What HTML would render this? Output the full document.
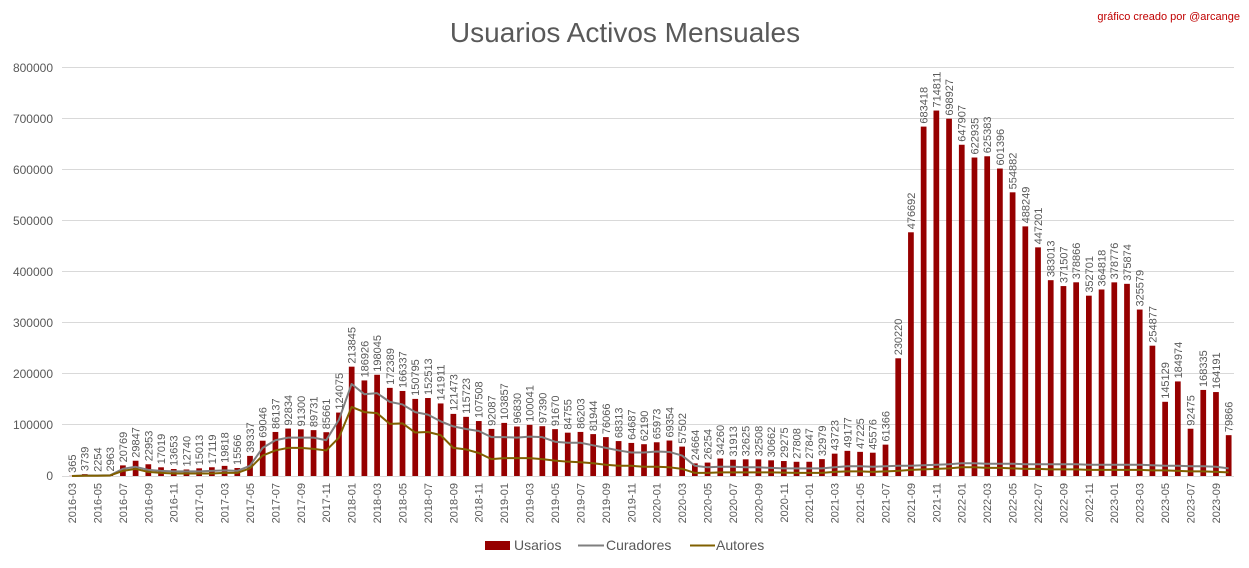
<!DOCTYPE html>
<html><head><meta charset="utf-8"><style>
html,body{margin:0;padding:0;background:#fff;}
svg{display:block;font-family:"Liberation Sans",sans-serif;}
.dl{font-size:11px;fill:#595959;}
.tk{font-size:11px;fill:#595959;}
</style></head><body>
<svg width="1249" height="568" viewBox="0 0 1249 568">
<rect width="1249" height="568" fill="#fff"/>
<text x="625" y="42" text-anchor="middle" font-size="28" fill="#595959">Usuarios Activos Mensuales</text>
<text x="1240" y="20" text-anchor="end" font-size="11" fill="#c00000">gráfico creado por @arcange</text>
<g stroke="#d9d9d9" stroke-width="1">
<line x1="62" x2="1234" y1="67.5" y2="67.5"/><line x1="62" x2="1234" y1="118.5" y2="118.5"/><line x1="62" x2="1234" y1="169.5" y2="169.5"/><line x1="62" x2="1234" y1="220.5" y2="220.5"/><line x1="62" x2="1234" y1="271.5" y2="271.5"/><line x1="62" x2="1234" y1="322.5" y2="322.5"/><line x1="62" x2="1234" y1="373.5" y2="373.5"/><line x1="62" x2="1234" y1="424.5" y2="424.5"/><line x1="62" x2="1234" y1="476.5" y2="476.5"/>
</g>
<g font-size="12" fill="#595959" text-anchor="end">
<text x="53" y="72">800000</text><text x="53" y="123">700000</text><text x="53" y="174">600000</text><text x="53" y="225">500000</text><text x="53" y="276">400000</text><text x="53" y="327">300000</text><text x="53" y="378">200000</text><text x="53" y="429">100000</text><text x="53" y="480">0</text>
</g>
<g transform="translate(72,476) scale(12.71,-0.00051125)">
<g fill="#960000">
<rect x="-0.22" width="0.45" y="0" height="365"/><rect x="0.78" width="0.45" y="0" height="3739"/><rect x="1.78" width="0.45" y="0" height="2254"/><rect x="2.78" width="0.45" y="0" height="2963"/><rect x="3.78" width="0.45" y="0" height="20769"/><rect x="4.78" width="0.45" y="0" height="29847"/><rect x="5.78" width="0.45" y="0" height="22953"/><rect x="6.78" width="0.45" y="0" height="17019"/><rect x="7.78" width="0.45" y="0" height="13653"/><rect x="8.78" width="0.45" y="0" height="12740"/><rect x="9.78" width="0.45" y="0" height="15013"/><rect x="10.78" width="0.45" y="0" height="17119"/><rect x="11.78" width="0.45" y="0" height="19818"/><rect x="12.78" width="0.45" y="0" height="15566"/><rect x="13.78" width="0.45" y="0" height="39337"/><rect x="14.78" width="0.45" y="0" height="69046"/><rect x="15.78" width="0.45" y="0" height="86137"/><rect x="16.78" width="0.45" y="0" height="92834"/><rect x="17.78" width="0.45" y="0" height="91300"/><rect x="18.78" width="0.45" y="0" height="89731"/><rect x="19.78" width="0.45" y="0" height="85661"/><rect x="20.78" width="0.45" y="0" height="124075"/><rect x="21.78" width="0.45" y="0" height="213845"/><rect x="22.78" width="0.45" y="0" height="186926"/><rect x="23.78" width="0.45" y="0" height="198045"/><rect x="24.78" width="0.45" y="0" height="172389"/><rect x="25.78" width="0.45" y="0" height="166337"/><rect x="26.78" width="0.45" y="0" height="150795"/><rect x="27.78" width="0.45" y="0" height="152513"/><rect x="28.78" width="0.45" y="0" height="141911"/><rect x="29.78" width="0.45" y="0" height="121473"/><rect x="30.78" width="0.45" y="0" height="115723"/><rect x="31.78" width="0.45" y="0" height="107508"/><rect x="32.78" width="0.45" y="0" height="92087"/><rect x="33.78" width="0.45" y="0" height="103857"/><rect x="34.78" width="0.45" y="0" height="96830"/><rect x="35.78" width="0.45" y="0" height="100041"/><rect x="36.78" width="0.45" y="0" height="97390"/><rect x="37.78" width="0.45" y="0" height="91670"/><rect x="38.78" width="0.45" y="0" height="84755"/><rect x="39.78" width="0.45" y="0" height="86203"/><rect x="40.78" width="0.45" y="0" height="81944"/><rect x="41.78" width="0.45" y="0" height="76066"/><rect x="42.78" width="0.45" y="0" height="68313"/><rect x="43.78" width="0.45" y="0" height="64687"/><rect x="44.78" width="0.45" y="0" height="62190"/><rect x="45.78" width="0.45" y="0" height="65973"/><rect x="46.78" width="0.45" y="0" height="69354"/><rect x="47.78" width="0.45" y="0" height="57502"/><rect x="48.78" width="0.45" y="0" height="24664"/><rect x="49.78" width="0.45" y="0" height="26254"/><rect x="50.78" width="0.45" y="0" height="34260"/><rect x="51.78" width="0.45" y="0" height="31913"/><rect x="52.78" width="0.45" y="0" height="32625"/><rect x="53.78" width="0.45" y="0" height="32508"/><rect x="54.78" width="0.45" y="0" height="30662"/><rect x="55.78" width="0.45" y="0" height="29275"/><rect x="56.78" width="0.45" y="0" height="27808"/><rect x="57.78" width="0.45" y="0" height="27847"/><rect x="58.78" width="0.45" y="0" height="32979"/><rect x="59.78" width="0.45" y="0" height="43723"/><rect x="60.78" width="0.45" y="0" height="49177"/><rect x="61.78" width="0.45" y="0" height="47225"/><rect x="62.78" width="0.45" y="0" height="45576"/><rect x="63.78" width="0.45" y="0" height="61366"/><rect x="64.78" width="0.45" y="0" height="230220"/><rect x="65.78" width="0.45" y="0" height="476692"/><rect x="66.78" width="0.45" y="0" height="683418"/><rect x="67.78" width="0.45" y="0" height="714811"/><rect x="68.78" width="0.45" y="0" height="698927"/><rect x="69.78" width="0.45" y="0" height="647907"/><rect x="70.78" width="0.45" y="0" height="622935"/><rect x="71.78" width="0.45" y="0" height="625383"/><rect x="72.78" width="0.45" y="0" height="601396"/><rect x="73.78" width="0.45" y="0" height="554882"/><rect x="74.78" width="0.45" y="0" height="488249"/><rect x="75.78" width="0.45" y="0" height="447201"/><rect x="76.78" width="0.45" y="0" height="383013"/><rect x="77.78" width="0.45" y="0" height="371507"/><rect x="78.78" width="0.45" y="0" height="378866"/><rect x="79.78" width="0.45" y="0" height="352701"/><rect x="80.78" width="0.45" y="0" height="364818"/><rect x="81.78" width="0.45" y="0" height="378776"/><rect x="82.78" width="0.45" y="0" height="375874"/><rect x="83.78" width="0.45" y="0" height="325579"/><rect x="84.78" width="0.45" y="0" height="254877"/><rect x="85.78" width="0.45" y="0" height="145129"/><rect x="86.78" width="0.45" y="0" height="184974"/><rect x="87.78" width="0.45" y="0" height="92475"/><rect x="88.78" width="0.45" y="0" height="168335"/><rect x="89.78" width="0.45" y="0" height="164191"/><rect x="90.78" width="0.45" y="0" height="79866"/>
</g>
<polyline fill="none" stroke="#7f7f7f" stroke-width="2" vector-effect="non-scaling-stroke" stroke-linejoin="round" points="0,0 1,1000 2,1000 3,1500 4,14000 5,18000 6,12000 7,10000 8,9000 9,9000 10,9000 11,10000 12,11000 13,10000 14,20000 15,55000 16,70000 17,75000 18,75000 19,75000 20,70000 21,110000 22,180000 23,160000 24,162000 25,145000 26,140000 27,125000 28,120000 29,107000 30,97000 31,92000 32,88000 33,76000 34,76000 35,75000 36,77000 37,76000 38,67000 39,65000 40,65000 41,60000 42,55000 43,50000 44,46000 45,46000 46,48000 47,47000 48,40000 49,20000 50,17000 51,18000 52,18000 53,17000 54,17000 55,16000 56,15000 57,15000 58,15000 59,15000 60,17000 61,19000 62,19000 63,18000 64,19000 65,20000 66,20000 67,21000 68,22000 69,23000 70,25000 71,25000 72,24000 73,24000 74,24000 75,23000 76,23000 77,23000 78,23000 79,23000 80,22000 81,22000 82,22000 83,22000 84,22000 85,21000 86,20000 87,20000 88,19000 89,19000 90,18000 91,15000"/>
<polyline fill="none" stroke="#806000" stroke-width="2" vector-effect="non-scaling-stroke" stroke-linejoin="round" points="0,0 1,500 2,500 3,1000 4,10000 5,14000 6,8000 7,6000 8,5000 9,5000 10,5000 11,5000 12,6000 13,6000 14,15000 15,40000 16,50000 17,55000 18,55000 19,53000 20,50000 21,75000 22,135000 23,125000 24,123000 25,102000 26,103000 27,85000 28,86000 29,80000 30,55000 31,52000 32,45000 33,33000 34,35000 35,35000 36,35000 37,33000 38,30000 39,28000 40,27000 41,25000 42,22000 43,20000 44,20000 45,18000 46,18000 47,17000 48,14000 49,6000 50,6000 51,7000 52,7000 53,7000 54,7000 55,7000 56,6500 57,6000 58,6000 59,6000 60,8000 61,9000 62,9000 63,8000 64,9000 65,10000 66,12000 67,13000 68,14000 69,15000 70,17000 71,17000 72,16000 73,16000 74,15000 75,14000 76,14000 77,13000 78,13000 79,13000 80,12000 81,12000 82,12000 83,12000 84,12000 85,11000 86,11000 87,10000 88,9000 89,9000 90,8000 91,7000"/>
<g class="dl">
<text transform="translate(0,365) scale(0.078678,-1956) rotate(-90)" x="3" y="4">365</text>
<text transform="translate(1,3739) scale(0.078678,-1956) rotate(-90)" x="3" y="4">3739</text>
<text transform="translate(2,2254) scale(0.078678,-1956) rotate(-90)" x="3" y="4">2254</text>
<text transform="translate(3,2963) scale(0.078678,-1956) rotate(-90)" x="3" y="4">2963</text>
<text transform="translate(4,20769) scale(0.078678,-1956) rotate(-90)" x="3" y="4">20769</text>
<text transform="translate(5,29847) scale(0.078678,-1956) rotate(-90)" x="3" y="4">29847</text>
<text transform="translate(6,22953) scale(0.078678,-1956) rotate(-90)" x="3" y="4">22953</text>
<text transform="translate(7,17019) scale(0.078678,-1956) rotate(-90)" x="3" y="4">17019</text>
<text transform="translate(8,13653) scale(0.078678,-1956) rotate(-90)" x="3" y="4">13653</text>
<text transform="translate(9,12740) scale(0.078678,-1956) rotate(-90)" x="3" y="4">12740</text>
<text transform="translate(10,15013) scale(0.078678,-1956) rotate(-90)" x="3" y="4">15013</text>
<text transform="translate(11,17119) scale(0.078678,-1956) rotate(-90)" x="3" y="4">17119</text>
<text transform="translate(12,19818) scale(0.078678,-1956) rotate(-90)" x="3" y="4">19818</text>
<text transform="translate(13,15566) scale(0.078678,-1956) rotate(-90)" x="3" y="4">15566</text>
<text transform="translate(14,39337) scale(0.078678,-1956) rotate(-90)" x="3" y="4">39337</text>
<text transform="translate(15,69046) scale(0.078678,-1956) rotate(-90)" x="3" y="4">69046</text>
<text transform="translate(16,86137) scale(0.078678,-1956) rotate(-90)" x="3" y="4">86137</text>
<text transform="translate(17,92834) scale(0.078678,-1956) rotate(-90)" x="3" y="4">92834</text>
<text transform="translate(18,91300) scale(0.078678,-1956) rotate(-90)" x="3" y="4">91300</text>
<text transform="translate(19,89731) scale(0.078678,-1956) rotate(-90)" x="3" y="4">89731</text>
<text transform="translate(20,85661) scale(0.078678,-1956) rotate(-90)" x="3" y="4">85661</text>
<text transform="translate(21,124075) scale(0.078678,-1956) rotate(-90)" x="3" y="4">124075</text>
<text transform="translate(22,213845) scale(0.078678,-1956) rotate(-90)" x="3" y="4">213845</text>
<text transform="translate(23,186926) scale(0.078678,-1956) rotate(-90)" x="3" y="4">186926</text>
<text transform="translate(24,198045) scale(0.078678,-1956) rotate(-90)" x="3" y="4">198045</text>
<text transform="translate(25,172389) scale(0.078678,-1956) rotate(-90)" x="3" y="4">172389</text>
<text transform="translate(26,166337) scale(0.078678,-1956) rotate(-90)" x="3" y="4">166337</text>
<text transform="translate(27,150795) scale(0.078678,-1956) rotate(-90)" x="3" y="4">150795</text>
<text transform="translate(28,152513) scale(0.078678,-1956) rotate(-90)" x="3" y="4">152513</text>
<text transform="translate(29,141911) scale(0.078678,-1956) rotate(-90)" x="3" y="4">141911</text>
<text transform="translate(30,121473) scale(0.078678,-1956) rotate(-90)" x="3" y="4">121473</text>
<text transform="translate(31,115723) scale(0.078678,-1956) rotate(-90)" x="3" y="4">115723</text>
<text transform="translate(32,107508) scale(0.078678,-1956) rotate(-90)" x="3" y="4">107508</text>
<text transform="translate(33,92087) scale(0.078678,-1956) rotate(-90)" x="3" y="4">92087</text>
<text transform="translate(34,103857) scale(0.078678,-1956) rotate(-90)" x="3" y="4">103857</text>
<text transform="translate(35,96830) scale(0.078678,-1956) rotate(-90)" x="3" y="4">96830</text>
<text transform="translate(36,100041) scale(0.078678,-1956) rotate(-90)" x="3" y="4">100041</text>
<text transform="translate(37,97390) scale(0.078678,-1956) rotate(-90)" x="3" y="4">97390</text>
<text transform="translate(38,91670) scale(0.078678,-1956) rotate(-90)" x="3" y="4">91670</text>
<text transform="translate(39,84755) scale(0.078678,-1956) rotate(-90)" x="3" y="4">84755</text>
<text transform="translate(40,86203) scale(0.078678,-1956) rotate(-90)" x="3" y="4">86203</text>
<text transform="translate(41,81944) scale(0.078678,-1956) rotate(-90)" x="3" y="4">81944</text>
<text transform="translate(42,76066) scale(0.078678,-1956) rotate(-90)" x="3" y="4">76066</text>
<text transform="translate(43,68313) scale(0.078678,-1956) rotate(-90)" x="3" y="4">68313</text>
<text transform="translate(44,64687) scale(0.078678,-1956) rotate(-90)" x="3" y="4">64687</text>
<text transform="translate(45,62190) scale(0.078678,-1956) rotate(-90)" x="3" y="4">62190</text>
<text transform="translate(46,65973) scale(0.078678,-1956) rotate(-90)" x="3" y="4">65973</text>
<text transform="translate(47,69354) scale(0.078678,-1956) rotate(-90)" x="3" y="4">69354</text>
<text transform="translate(48,57502) scale(0.078678,-1956) rotate(-90)" x="3" y="4">57502</text>
<text transform="translate(49,24664) scale(0.078678,-1956) rotate(-90)" x="3" y="4">24664</text>
<text transform="translate(50,26254) scale(0.078678,-1956) rotate(-90)" x="3" y="4">26254</text>
<text transform="translate(51,34260) scale(0.078678,-1956) rotate(-90)" x="3" y="4">34260</text>
<text transform="translate(52,31913) scale(0.078678,-1956) rotate(-90)" x="3" y="4">31913</text>
<text transform="translate(53,32625) scale(0.078678,-1956) rotate(-90)" x="3" y="4">32625</text>
<text transform="translate(54,32508) scale(0.078678,-1956) rotate(-90)" x="3" y="4">32508</text>
<text transform="translate(55,30662) scale(0.078678,-1956) rotate(-90)" x="3" y="4">30662</text>
<text transform="translate(56,29275) scale(0.078678,-1956) rotate(-90)" x="3" y="4">29275</text>
<text transform="translate(57,27808) scale(0.078678,-1956) rotate(-90)" x="3" y="4">27808</text>
<text transform="translate(58,27847) scale(0.078678,-1956) rotate(-90)" x="3" y="4">27847</text>
<text transform="translate(59,32979) scale(0.078678,-1956) rotate(-90)" x="3" y="4">32979</text>
<text transform="translate(60,43723) scale(0.078678,-1956) rotate(-90)" x="3" y="4">43723</text>
<text transform="translate(61,49177) scale(0.078678,-1956) rotate(-90)" x="3" y="4">49177</text>
<text transform="translate(62,47225) scale(0.078678,-1956) rotate(-90)" x="3" y="4">47225</text>
<text transform="translate(63,45576) scale(0.078678,-1956) rotate(-90)" x="3" y="4">45576</text>
<text transform="translate(64,61366) scale(0.078678,-1956) rotate(-90)" x="3" y="4">61366</text>
<text transform="translate(65,230220) scale(0.078678,-1956) rotate(-90)" x="3" y="4">230220</text>
<text transform="translate(66,476692) scale(0.078678,-1956) rotate(-90)" x="3" y="4">476692</text>
<text transform="translate(67,683418) scale(0.078678,-1956) rotate(-90)" x="3" y="4">683418</text>
<text transform="translate(68,714811) scale(0.078678,-1956) rotate(-90)" x="3" y="4">714811</text>
<text transform="translate(69,698927) scale(0.078678,-1956) rotate(-90)" x="3" y="4">698927</text>
<text transform="translate(70,647907) scale(0.078678,-1956) rotate(-90)" x="3" y="4">647907</text>
<text transform="translate(71,622935) scale(0.078678,-1956) rotate(-90)" x="3" y="4">622935</text>
<text transform="translate(72,625383) scale(0.078678,-1956) rotate(-90)" x="3" y="4">625383</text>
<text transform="translate(73,601396) scale(0.078678,-1956) rotate(-90)" x="3" y="4">601396</text>
<text transform="translate(74,554882) scale(0.078678,-1956) rotate(-90)" x="3" y="4">554882</text>
<text transform="translate(75,488249) scale(0.078678,-1956) rotate(-90)" x="3" y="4">488249</text>
<text transform="translate(76,447201) scale(0.078678,-1956) rotate(-90)" x="3" y="4">447201</text>
<text transform="translate(77,383013) scale(0.078678,-1956) rotate(-90)" x="3" y="4">383013</text>
<text transform="translate(78,371507) scale(0.078678,-1956) rotate(-90)" x="3" y="4">371507</text>
<text transform="translate(79,378866) scale(0.078678,-1956) rotate(-90)" x="3" y="4">378866</text>
<text transform="translate(80,352701) scale(0.078678,-1956) rotate(-90)" x="3" y="4">352701</text>
<text transform="translate(81,364818) scale(0.078678,-1956) rotate(-90)" x="3" y="4">364818</text>
<text transform="translate(82,378776) scale(0.078678,-1956) rotate(-90)" x="3" y="4">378776</text>
<text transform="translate(83,375874) scale(0.078678,-1956) rotate(-90)" x="3" y="4">375874</text>
<text transform="translate(84,325579) scale(0.078678,-1956) rotate(-90)" x="3" y="4">325579</text>
<text transform="translate(85,254877) scale(0.078678,-1956) rotate(-90)" x="3" y="4">254877</text>
<text transform="translate(86,145129) scale(0.078678,-1956) rotate(-90)" x="3" y="4">145129</text>
<text transform="translate(87,184974) scale(0.078678,-1956) rotate(-90)" x="3" y="4">184974</text>
<text transform="translate(88,92475) scale(0.078678,-1956) rotate(-90)" x="3" y="4">92475</text>
<text transform="translate(89,168335) scale(0.078678,-1956) rotate(-90)" x="3" y="4">168335</text>
<text transform="translate(90,164191) scale(0.078678,-1956) rotate(-90)" x="3" y="4">164191</text>
<text transform="translate(91,79866) scale(0.078678,-1956) rotate(-90)" x="3" y="4">79866</text>
</g>
<g class="tk" text-anchor="end">
<text transform="translate(0,0) scale(0.078678,-1956) rotate(-90)" x="-7" y="4">2016-03</text>
<text transform="translate(2,0) scale(0.078678,-1956) rotate(-90)" x="-7" y="4">2016-05</text>
<text transform="translate(4,0) scale(0.078678,-1956) rotate(-90)" x="-7" y="4">2016-07</text>
<text transform="translate(6,0) scale(0.078678,-1956) rotate(-90)" x="-7" y="4">2016-09</text>
<text transform="translate(8,0) scale(0.078678,-1956) rotate(-90)" x="-7" y="4">2016-11</text>
<text transform="translate(10,0) scale(0.078678,-1956) rotate(-90)" x="-7" y="4">2017-01</text>
<text transform="translate(12,0) scale(0.078678,-1956) rotate(-90)" x="-7" y="4">2017-03</text>
<text transform="translate(14,0) scale(0.078678,-1956) rotate(-90)" x="-7" y="4">2017-05</text>
<text transform="translate(16,0) scale(0.078678,-1956) rotate(-90)" x="-7" y="4">2017-07</text>
<text transform="translate(18,0) scale(0.078678,-1956) rotate(-90)" x="-7" y="4">2017-09</text>
<text transform="translate(20,0) scale(0.078678,-1956) rotate(-90)" x="-7" y="4">2017-11</text>
<text transform="translate(22,0) scale(0.078678,-1956) rotate(-90)" x="-7" y="4">2018-01</text>
<text transform="translate(24,0) scale(0.078678,-1956) rotate(-90)" x="-7" y="4">2018-03</text>
<text transform="translate(26,0) scale(0.078678,-1956) rotate(-90)" x="-7" y="4">2018-05</text>
<text transform="translate(28,0) scale(0.078678,-1956) rotate(-90)" x="-7" y="4">2018-07</text>
<text transform="translate(30,0) scale(0.078678,-1956) rotate(-90)" x="-7" y="4">2018-09</text>
<text transform="translate(32,0) scale(0.078678,-1956) rotate(-90)" x="-7" y="4">2018-11</text>
<text transform="translate(34,0) scale(0.078678,-1956) rotate(-90)" x="-7" y="4">2019-01</text>
<text transform="translate(36,0) scale(0.078678,-1956) rotate(-90)" x="-7" y="4">2019-03</text>
<text transform="translate(38,0) scale(0.078678,-1956) rotate(-90)" x="-7" y="4">2019-05</text>
<text transform="translate(40,0) scale(0.078678,-1956) rotate(-90)" x="-7" y="4">2019-07</text>
<text transform="translate(42,0) scale(0.078678,-1956) rotate(-90)" x="-7" y="4">2019-09</text>
<text transform="translate(44,0) scale(0.078678,-1956) rotate(-90)" x="-7" y="4">2019-11</text>
<text transform="translate(46,0) scale(0.078678,-1956) rotate(-90)" x="-7" y="4">2020-01</text>
<text transform="translate(48,0) scale(0.078678,-1956) rotate(-90)" x="-7" y="4">2020-03</text>
<text transform="translate(50,0) scale(0.078678,-1956) rotate(-90)" x="-7" y="4">2020-05</text>
<text transform="translate(52,0) scale(0.078678,-1956) rotate(-90)" x="-7" y="4">2020-07</text>
<text transform="translate(54,0) scale(0.078678,-1956) rotate(-90)" x="-7" y="4">2020-09</text>
<text transform="translate(56,0) scale(0.078678,-1956) rotate(-90)" x="-7" y="4">2020-11</text>
<text transform="translate(58,0) scale(0.078678,-1956) rotate(-90)" x="-7" y="4">2021-01</text>
<text transform="translate(60,0) scale(0.078678,-1956) rotate(-90)" x="-7" y="4">2021-03</text>
<text transform="translate(62,0) scale(0.078678,-1956) rotate(-90)" x="-7" y="4">2021-05</text>
<text transform="translate(64,0) scale(0.078678,-1956) rotate(-90)" x="-7" y="4">2021-07</text>
<text transform="translate(66,0) scale(0.078678,-1956) rotate(-90)" x="-7" y="4">2021-09</text>
<text transform="translate(68,0) scale(0.078678,-1956) rotate(-90)" x="-7" y="4">2021-11</text>
<text transform="translate(70,0) scale(0.078678,-1956) rotate(-90)" x="-7" y="4">2022-01</text>
<text transform="translate(72,0) scale(0.078678,-1956) rotate(-90)" x="-7" y="4">2022-03</text>
<text transform="translate(74,0) scale(0.078678,-1956) rotate(-90)" x="-7" y="4">2022-05</text>
<text transform="translate(76,0) scale(0.078678,-1956) rotate(-90)" x="-7" y="4">2022-07</text>
<text transform="translate(78,0) scale(0.078678,-1956) rotate(-90)" x="-7" y="4">2022-09</text>
<text transform="translate(80,0) scale(0.078678,-1956) rotate(-90)" x="-7" y="4">2022-11</text>
<text transform="translate(82,0) scale(0.078678,-1956) rotate(-90)" x="-7" y="4">2023-01</text>
<text transform="translate(84,0) scale(0.078678,-1956) rotate(-90)" x="-7" y="4">2023-03</text>
<text transform="translate(86,0) scale(0.078678,-1956) rotate(-90)" x="-7" y="4">2023-05</text>
<text transform="translate(88,0) scale(0.078678,-1956) rotate(-90)" x="-7" y="4">2023-07</text>
<text transform="translate(90,0) scale(0.078678,-1956) rotate(-90)" x="-7" y="4">2023-09</text>
</g>
</g>
<g font-size="14" fill="#595959">
<rect x="485" y="541" width="25" height="9" fill="#960000"/>
<text x="514" y="550">Usarios</text>
<line x1="578" x2="604" y1="545.5" y2="545.5" stroke="#7f7f7f" stroke-width="2"/>
<text x="606" y="550">Curadores</text>
<line x1="690" x2="715" y1="545.5" y2="545.5" stroke="#806000" stroke-width="2"/>
<text x="716" y="550">Autores</text>
</g>
</svg>
</body></html>
